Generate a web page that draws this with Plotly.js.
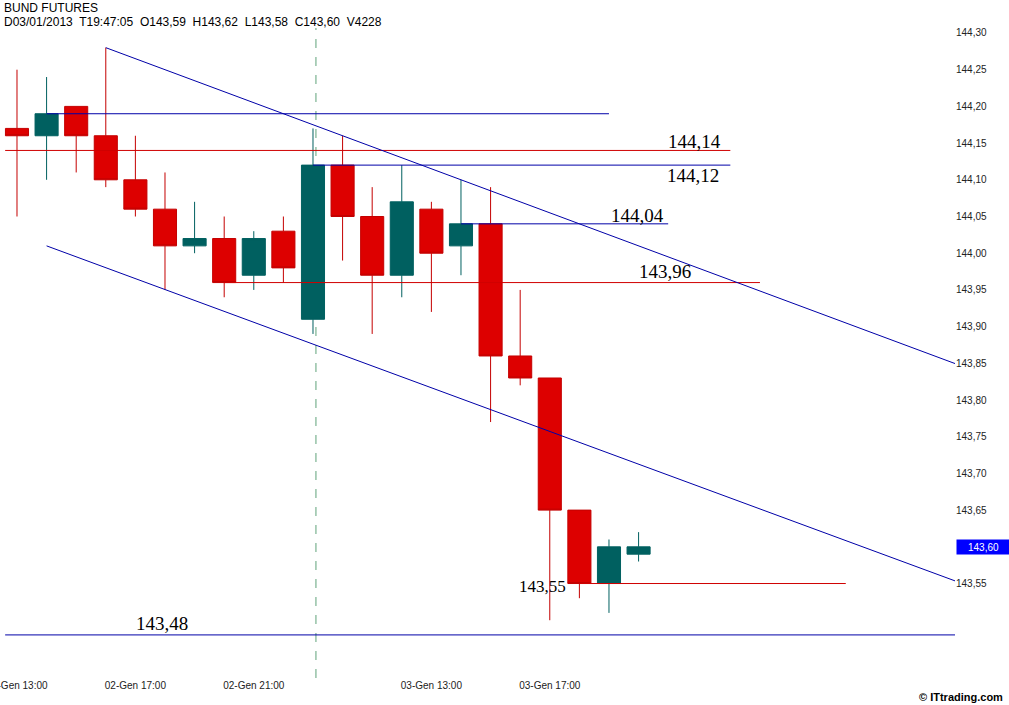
<!DOCTYPE html>
<html>
<head>
<meta charset="utf-8">
<script src="https://cdn.plot.ly/plotly-3.0.1.min.js"></script>
<style>
html,body{margin:0;padding:0;background:#ffffff;}
#chart{width:1009px;height:705px;}
</style>
</head>
<body>
<div id="chart"></div>
<script>
// ---- data (hourly bars, BUND futures) ----
const barTimes = [
  '02-Gen 13:00','02-Gen 14:00','02-Gen 15:00','02-Gen 16:00','02-Gen 17:00',
  '02-Gen 18:00','02-Gen 19:00','02-Gen 20:00','02-Gen 21:00','02-Gen 22:00',
  '03-Gen 09:00','03-Gen 10:00','03-Gen 11:00','03-Gen 12:00','03-Gen 13:00',
  '03-Gen 14:00','03-Gen 15:00','03-Gen 16:00','03-Gen 17:00','03-Gen 18:00',
  '03-Gen 19:00','03-Gen 20:00'
];
const openPrices  = [144.17,144.16,144.20,144.16,144.10,144.06,144.01,144.02,143.97,144.03,
                     143.91,144.12,144.05,143.97,144.06,144.01,144.04,143.86,143.83,143.65,143.55,143.59];
const highPrices  = [144.25,144.24,144.20,144.28,144.16,144.11,144.07,144.05,144.03,144.05,
                     144.17,144.16,144.09,144.12,144.07,144.10,144.09,143.95,143.83,143.65,143.61,143.62];
const lowPrices   = [144.05,144.10,144.11,144.09,144.05,143.95,144.00,143.94,143.95,143.96,
                     143.89,143.99,143.89,143.94,143.92,143.97,143.77,143.82,143.50,143.53,143.51,143.58];
const closePrices = [144.16,144.19,144.16,144.10,144.06,144.01,144.02,143.96,144.02,143.98,
                     144.12,144.05,143.97,144.07,144.00,144.04,143.86,143.83,143.65,143.55,143.60,143.60];

const xTickLabels = ['02-Gen 13:00','02-Gen 17:00','02-Gen 21:00','03-Gen 13:00','03-Gen 17:00'];
const yTickValues = [143.55,143.65,143.70,143.75,143.80,143.85,143.90,143.95,
                     144.00,144.05,144.10,144.15,144.20,144.25,144.30];

// drawn horizontal levels (value, start bar, end bar)
const redLevels     = [144.14, 143.96, 143.55];
const redLevelFrom  = [-0.4, 7, 19];
const redLevelTo    = [24.1, 25.1, 28];
const blueLevels    = [144.19, 144.12, 144.04, 143.48];
const blueLevelFrom = [1, 10, 15, -0.4];
const blueLevelTo   = [20, 24.1, 22, 31.7];

// drawn trend channel (bar index, price)
const upperTrendX = [3, 32];
const upperTrendY = [144.28, 143.845];
const lowerTrendX = [1, 32];
const lowerTrendY = [144.01, 143.549];

const sessionBreak = 10.1;
const lastPrice = 143.60;
const headerTitle = 'BUND FUTURES';
const headerInfo = 'D03/01/2013&nbsp; T19:47:05&nbsp; O143,59&nbsp; H143,62&nbsp; L143,58&nbsp; C143,60&nbsp; V4228';

// ---- helpers ----
const fmt = v => v.toFixed(2).replace('.', ',');
const barIndex = barTimes.map((t, i) => i);
const tickIdx = xTickLabels.map(l => barTimes.indexOf(l));

function segments(vals, from, to) {
  const x = [], y = [];
  vals.forEach((v, i) => { x.push(from[i], to[i], null); y.push(v, v, null); });
  return {x, y};
}
const redSeg = segments(redLevels, redLevelFrom, redLevelTo);
const blueSeg = segments(blueLevels, blueLevelFrom, blueLevelTo);

const RED = '#DD0000', RED_WICK = '#C40000', TEAL = '#006060';
const BLUE = '#0000A8', HRED = '#D00000';

const traces = [
  {
    type: 'candlestick', x: barIndex,
    open: openPrices, high: highPrices, low: lowPrices, close: closePrices,
    increasing: {line: {color: TEAL, width: 1}, fillcolor: TEAL},
    decreasing: {line: {color: RED_WICK, width: 1}, fillcolor: RED},
    whiskerwidth: 0, hoverinfo: 'x+y'
  },
  {type: 'scatter', mode: 'lines', x: redSeg.x, y: redSeg.y, line: {color: HRED, width: 1}, hoverinfo: 'skip'},
  {type: 'scatter', mode: 'lines', x: blueSeg.x, y: blueSeg.y, line: {color: BLUE, width: 1}, hoverinfo: 'skip'},
  {type: 'scatter', mode: 'lines', x: upperTrendX, y: upperTrendY, line: {color: BLUE, width: 1}, hoverinfo: 'skip'},
  {type: 'scatter', mode: 'lines', x: lowerTrendX, y: lowerTrendY, line: {color: BLUE, width: 1}, hoverinfo: 'skip'}
];

// level labels: which level, where along x, vertical offset in px, font size
const levelLabelPlacement = [
  {v: 144.14, x: 22.9, dy: 9,  size: 19},
  {v: 144.12, x: 22.85, dy: -10, size: 19},
  {v: 144.04, x: 20.95, dy: 8,  size: 19},
  {v: 143.96, x: 21.9, dy: 11, size: 19},
  {v: 143.55, x: 17.75, dy: -3, size: 17},
  {v: 143.48, x: 4.9,  dy: 11, size: 19}
];

const annotations = levelLabelPlacement.map(p => ({
  x: p.x, y: p.v, xref: 'x', yref: 'y', text: fmt(p.v), showarrow: false,
  xanchor: 'center', yanchor: 'middle', yshift: p.dy,
  font: {family: 'Liberation Serif, Times New Roman, serif', size: p.size, color: '#000'}
}));

annotations.push(
  {x: 2/955, xref: 'paper', y: 1 + (28 - 8)/650, yref: 'paper', xanchor: 'left', yanchor: 'middle',
   text: headerTitle, showarrow: false,
   font: {family: 'Liberation Sans, Arial, sans-serif', size: 12, color: '#000'}},
  {x: 2/955, xref: 'paper', y: 1 + (28 - 22)/650, yref: 'paper', xanchor: 'left', yanchor: 'middle',
   text: headerInfo, showarrow: false,
   font: {family: 'Liberation Sans, Arial, sans-serif', size: 12, color: '#000'}},
  {x: 1, xref: 'paper', y: lastPrice, yref: 'y', xanchor: 'left', yanchor: 'middle', xshift: 1,
   text: fmt(lastPrice), showarrow: false, bgcolor: '#0000FF', width: 51, height: 12, borderpad: 1,
   align: 'center',
   font: {family: 'Liberation Sans, Arial, sans-serif', size: 10, color: '#FFFFFF'}},
  {x: 1005/955, xref: 'paper', y: (678 - 697)/650, yref: 'paper', xanchor: 'right', yanchor: 'middle',
   text: '<b>© ITtrading.com</b>', showarrow: false,
   font: {family: 'Liberation Sans, Arial, sans-serif', size: 11, color: '#000'}}
);

const layout = {
  width: 1009, height: 705,
  margin: {l: 0, r: 54, t: 28, b: 27, pad: 0},
  paper_bgcolor: '#ffffff', plot_bgcolor: '#ffffff',
  showlegend: false,
  separators: ',.',
  boxgap: 0.22, boxgroupgap: 0,
  hovermode: 'closest',
  xaxis: {
    range: [-0.574, 31.69], showgrid: false, zeroline: false, showline: false,
    tickmode: 'array', tickvals: tickIdx, ticktext: xTickLabels, ticks: '',
    ticklabeloverflow: 'allow',
    tickfont: {family: 'Liberation Sans, Arial, sans-serif', size: 10, color: '#222'},
    rangeslider: {visible: false}, fixedrange: true
  },
  yaxis: {
    side: 'right', range: [143.4213, 144.3068], showgrid: false, zeroline: false, showline: false,
    tickmode: 'array', tickvals: yTickValues, tickformat: '.2f', ticks: '',
    tickfont: {family: 'Liberation Sans, Arial, sans-serif', size: 10, color: '#222'},
    fixedrange: true
  },
  shapes: [
    {type: 'line', xref: 'x', yref: 'paper', x0: sessionBreak, x1: sessionBreak, y0: 0, y1: 1,
     line: {color: '#5FA37A', width: 1, dash: 'dash'}, layer: 'below'}
  ],
  annotations: annotations
};

Plotly.newPlot('chart', traces, layout, {displayModeBar: false, staticPlot: false});
</script>
</body>
</html>
